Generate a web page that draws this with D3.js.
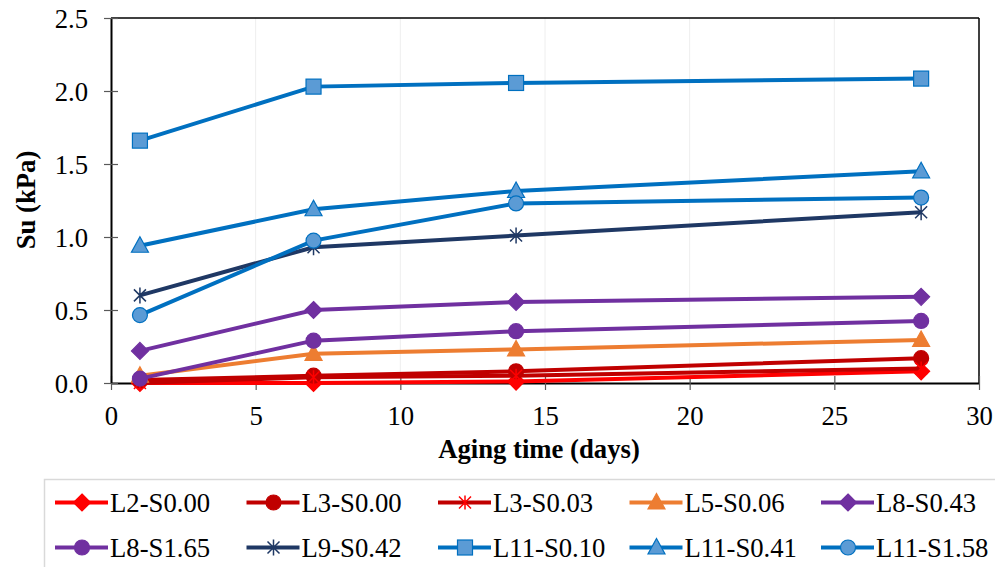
<!DOCTYPE html>
<html>
<head>
<meta charset="utf-8">
<script src="https://cdn.jsdelivr.net/npm/d3@7"></script>
<style>
body { margin: 0; background: #fff; }
text { font-family: "Liberation Serif", "Times New Roman", serif; }
</style>
</head>
<body>
<div id="chart-area"></div>
<script>
// data
var days = [1, 7, 14, 28];
var seriesNames = ["L2-S0.00", "L3-S0.00", "L3-S0.03", "L5-S0.06", "L8-S0.43",
                   "L8-S1.65", "L9-S0.42", "L11-S0.10", "L11-S0.41", "L11-S1.58"];
var L2_S000  = [0.00, 0.00, 0.01, 0.08];
var L3_S000  = [0.02, 0.05, 0.08, 0.17];
var L3_S003  = [0.00, 0.04, 0.05, 0.10];
var L5_S006  = [0.05, 0.20, 0.23, 0.295];
var L8_S043  = [0.22, 0.50, 0.555, 0.59];
var L8_S165  = [0.03, 0.29, 0.355, 0.425];
var L9_S042  = [0.60, 0.93, 1.01, 1.17];
var L11_S010 = [1.66, 2.03, 2.055, 2.085];
var L11_S041 = [0.94, 1.19, 1.315, 1.45];
var L11_S158 = [0.465, 0.975, 1.23, 1.27];
var xTicks = [0, 5, 10, 15, 20, 25, 30];
var yTicks = [0, 0.5, 1.0, 1.5, 2.0, 2.5];

var styles = [
	{line: "#FF0000", marker: "diamond", fill: "#FF0000", stroke: "#FF0000"},
	{line: "#C00000", marker: "circle", fill: "#C00000", stroke: "#C00000"},
	{line: "#C00000", marker: "asterisk", fill: "none", stroke: "#FF0000"},
	{line: "#ED7D31", marker: "triangle", fill: "#ED7D31", stroke: "#ED7D31"},
	{line: "#7030A0", marker: "diamond", fill: "#7030A0", stroke: "#7030A0"},
	{line: "#7030A0", marker: "circle", fill: "#7030A0", stroke: "#7030A0"},
	{line: "#1F3864", marker: "star", fill: "none", stroke: "#1F3864"},
	{line: "#0070C0", marker: "square", fill: "#5B9BD5", stroke: "#0070C0"},
	{line: "#0070C0", marker: "triangle", fill: "#5B9BD5", stroke: "#0070C0"},
	{line: "#0070C0", marker: "circle", fill: "#5B9BD5", stroke: "#0070C0"}
];
var allValues = [L2_S000, L3_S000, L3_S003, L5_S006, L8_S043,
                 L8_S165, L9_S042, L11_S010, L11_S041, L11_S158];

var series = seriesNames.map(function(name, i){
	return {name: name, style: styles[i],
		points: days.map(function(d, j){ return {x: d, y: allValues[i][j]}; })};
});

var fontSize = "26.7px";
var margin = {left: 111, top: 18};
var width = 868, height = 365;

var svg = d3.select("#chart-area").append("svg")
	.attr("width", 995).attr("height", 567);
var g = svg.append("g")
	.attr("transform", "translate(" + margin.left + "," + margin.top + ")");

var xScale = d3.scaleLinear().domain([0, 30]).range([0, width]);
var yScale = d3.scaleLinear().domain([0, 2.5]).range([height, 0]);

// vertical gridlines
g.selectAll(".grid").data(xTicks.slice(1, -1)).enter().append("line")
	.attr("x1", function(d){ return xScale(d); })
	.attr("x2", function(d){ return xScale(d); })
	.attr("y1", 0).attr("y2", height)
	.attr("stroke", "#eeeeee").attr("stroke-width", 1);

// box top and right
g.append("line").attr("x1", 0).attr("x2", width).attr("y1", 0).attr("y2", 0)
	.attr("stroke", "#000").attr("stroke-width", 1.5);
g.append("line").attr("x1", width).attr("x2", width).attr("y1", 0).attr("y2", height)
	.attr("stroke", "#000").attr("stroke-width", 1.5);

// axes
var xAxis = g.append("g").attr("transform", "translate(0," + height + ")")
	.call(d3.axisBottom(xScale).tickValues(xTicks).tickSize(7).tickSizeOuter(0));
var yAxis = g.append("g")
	.call(d3.axisLeft(yScale).tickValues(yTicks).tickFormat(d3.format(".1f")).tickSize(7).tickSizeOuter(0));

[xAxis, yAxis].forEach(function(ax){
	ax.attr("font-family", null);
	ax.select(".domain").attr("stroke", "#000").attr("stroke-width", 2);
	ax.selectAll(".tick line").attr("stroke", "#595959").attr("stroke-width", 1.2);
	ax.selectAll(".tick text").attr("font-size", fontSize).attr("fill", "#000");
});
xAxis.selectAll(".tick line").attr("y1", -7);
xAxis.selectAll(".tick text").attr("dy", 0).attr("y", 42);
yAxis.selectAll(".tick line").attr("x1", 7);
yAxis.selectAll(".tick text").attr("x", -23).attr("dy", "0.34em");

// labels
svg.append("text")
	.attr("x", 539).attr("y", 458)
	.attr("text-anchor", "middle").attr("font-size", fontSize).attr("font-weight", "bold")
	.text("Aging time (days)");
svg.append("text")
	.attr("transform", "translate(35,200) rotate(-90)")
	.attr("text-anchor", "middle").attr("font-size", fontSize).attr("font-weight", "bold")
	.text("Su (kPa)");

// markers
function drawMarker(sel, type, s){
	var m;
	if (type === "circle") {
		m = sel.append("circle").attr("r", 7.5);
	} else if (type === "square") {
		m = sel.append("rect").attr("x", -7.5).attr("y", -7.5).attr("width", 15).attr("height", 15);
	} else if (type === "diamond") {
		m = sel.append("path").attr("d", "M0,-8.5L8.5,0L0,8.5L-8.5,0Z");
	} else if (type === "triangle") {
		m = sel.append("path").attr("d", "M0,-9L8.5,6.5L-8.5,6.5Z");
	} else if (type === "asterisk") {
		m = sel.append("path").attr("d", "M-6,-6L6,6M6,-6L-6,6M0,-7L0,7");
	} else {
		m = sel.append("path").attr("d", "M-6,-6L6,6M6,-6L-6,6M0,-8L0,8");
	}
	m.attr("fill", s.fill).attr("stroke", s.stroke)
		.attr("stroke-width", (type === "asterisk" || type === "star") ? 1.5 : 1.2);
}

var line = d3.line()
	.x(function(d){ return xScale(d.x); })
	.y(function(d){ return yScale(d.y); });

series.forEach(function(s){
	var sg = g.append("g");
	sg.append("path").datum(s.points)
		.attr("d", line).attr("fill", "none")
		.attr("stroke", s.style.line).attr("stroke-width", 4);
	s.points.forEach(function(p){
		var mg = sg.append("g")
			.attr("transform", "translate(" + xScale(p.x) + "," + yScale(p.y) + ")");
		drawMarker(mg, s.style.marker, s.style);
	});
});

// legend
var legend = svg.append("g");
legend.append("rect")
	.attr("x", 44.5).attr("y", 479.5).attr("width", 960).attr("height", 100)
	.attr("fill", "none").attr("stroke", "#d9d9d9").attr("stroke-width", 1.5);

series.forEach(function(s, i){
	var col = i % 5, row = Math.floor(i / 5);
	var lx = 55 + col * 191.5, ly = 502.5 + row * 45;
	var lg = legend.append("g").attr("transform", "translate(" + lx + "," + ly + ")");
	lg.append("line").attr("x1", 0).attr("x2", 53).attr("y1", 0).attr("y2", 0)
		.attr("stroke", s.style.line).attr("stroke-width", 4);
	var mg = lg.append("g").attr("transform", "translate(27,0)");
	drawMarker(mg, s.style.marker, s.style);
	lg.append("text").attr("x", 55).attr("y", 0).attr("dy", "0.34em")
		.attr("font-size", fontSize).text(s.name);
});
</script>
</body>
</html>
